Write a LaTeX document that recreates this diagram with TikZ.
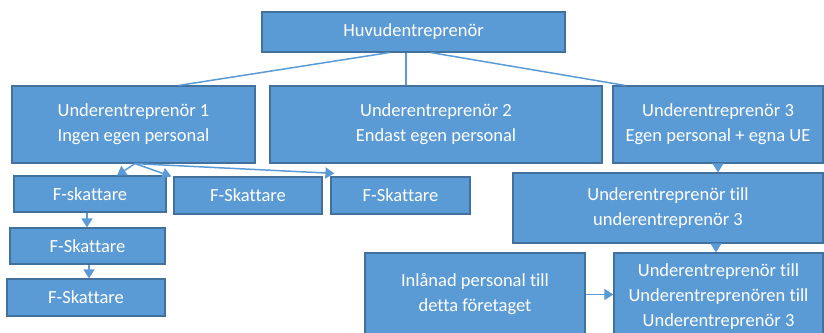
\documentclass[tikz,border=0pt]{standalone}
\usepackage{fontspec}
\setmainfont[Ligatures=NoCommon]{Carlito}
\usetikzlibrary{arrows.meta}
\tikzset{>={Triangle[width=11pt,length=9pt]}}
\definecolor{boxblue}{HTML}{5B9BD5}
\definecolor{edgeblue}{HTML}{41719C}
\tikzset{
  box/.style={draw=edgeblue, fill=boxblue, line width=1.2pt, text=white,
    align=center, inner sep=0pt, font=\fontsize{18.5}{25}\selectfont},
  link/.style={draw=boxblue, line width=1.5pt}
}

\begin{document}
\begin{tikzpicture}[x=1pt, y=-1pt]
\useasboundingbox (0,0) rectangle (824,332);

% main contractor
\node[box, minimum width=303pt, minimum height=40pt] (huvud) at (413.5,32) {Huvudentreprenör};

% first level
\node[box, minimum width=243pt, minimum height=77pt] (ue1) at (133.5,124.5)
  {Underentreprenör 1\\Ingen egen personal};
\node[box, minimum width=332pt, minimum height=77pt] (ue2) at (436,124.5)
  {Underentreprenör 2\\Endast egen personal};
\node[box, minimum width=210pt, minimum height=77pt] (ue3) at (718,124.5)
  {Underentreprenör 3\\Egen personal + egna UE};

% under UE 1
\node[box, minimum width=152pt, minimum height=36pt] (fa) at (90,194) {F-skattare};
\node[box, minimum width=148pt, minimum height=37pt] (fb) at (248,195.5) {F-Skattare};
\node[box, minimum width=139pt, minimum height=37pt] (fc) at (400.5,195.5) {F-Skattare};
\node[box, minimum width=155pt, minimum height=36pt] (fd) at (87.5,246) {F-Skattare};
\node[box, minimum width=158pt, minimum height=37pt] (fe) at (86,297.5) {F-Skattare};

% under UE 3
\node[box, minimum width=310pt, minimum height=70pt] (ue31) at (668,208)
  {Underentreprenör till\\underentreprenör 3};
\node[box, minimum width=220pt, minimum height=83pt] (inl) at (475,294.5)
  {Inlånad personal till\\detta företaget};
\node[box, minimum width=209pt, minimum height=88pt] (ue32) at (718.5,297)
  {Underentreprenör till\\Underentreprenören till\\Underentreprenör 3};

% lines from the top
\draw[link] ([xshift=-24.5pt]huvud.south) -- ([xshift=45.5pt]ue1.north);
\draw[link] ([xshift=-7.5pt]huvud.south) -- ([xshift=-30pt]ue2.north);
\draw[link] ([xshift=17.5pt]huvud.south) -- ([xshift=-93pt]ue3.north);

% arrows
\draw[link,->] ([xshift=1.5pt]ue1.south) -- ([xshift=27pt]fa.north);
\draw[link,->] ([xshift=1.5pt]ue1.south) -- ([xshift=-2pt]fb.north west);
\draw[link,->] ([xshift=1.5pt]ue1.south) -- ([xshift=4pt,yshift=3pt]fc.north west);
\draw[link,->] ([xshift=-3pt]fa.south) -- ([xshift=-0.5pt]fd.north);
\draw[link,->] ([xshift=1.5pt]fd.south) -- ([xshift=3pt]fe.north);
\draw[link,->] (ue3.south) -- ([xshift=50pt]ue31.north);
\draw[link,->] ([xshift=48pt]ue31.south) -- ([xshift=-2.5pt]ue32.north);
\draw[link,->] (inl.east) -- (ue32.west |- inl.east);
\end{tikzpicture}
\end{document}
